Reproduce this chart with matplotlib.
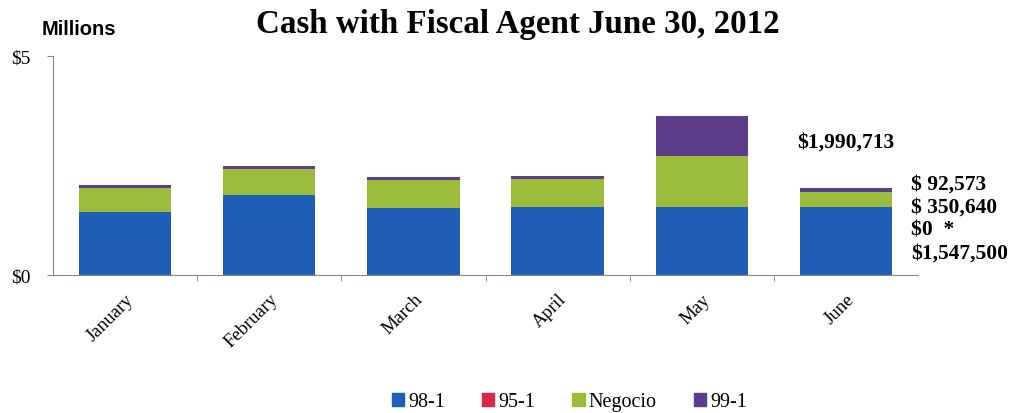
import matplotlib.pyplot as plt
import numpy as np
from matplotlib.patches import Patch

months = ['January', 'February', 'March', 'April', 'May', 'June']
fund_98_1 = [1.44, 1.83, 1.53, 1.55, 1.55, 1.5475]
fund_95_1 = [0.0, 0.0, 0.0, 0.0, 0.0, 0.0]
negocio = [0.55, 0.59, 0.64, 0.64, 1.17, 0.35064]
fund_99_1 = [0.06, 0.07, 0.07, 0.07, 0.91, 0.092573]

june_total = '$1,990,713'
june_parts = ['$ 92,573', '$ 350,640', '$0  *', '$1,547,500']

colors = {'98-1': '#1f5fb8', '95-1': '#d9264a', 'Negocio': '#9bbb3a', '99-1': '#5c3d8a'}

plt.rcParams['font.family'] = ['Liberation Serif', 'DejaVu Serif']

fig = plt.figure(figsize=(10.26, 4.14), dpi=100)
ax = fig.add_axes([0.0517, 0.3333, 0.843, 0.529])

x = np.arange(len(months))
w = 0.64
bottom = np.zeros(len(months))
for name, vals in [('98-1', fund_98_1), ('95-1', fund_95_1),
                   ('Negocio', negocio), ('99-1', fund_99_1)]:
    ax.bar(x, vals, w, bottom=bottom, color=colors[name], edgecolor='none')
    bottom += np.array(vals)

ax.set_xlim(-0.5, len(months) - 0.5)
ax.set_ylim(0, 5)
ax.set_yticks([0, 5])
ax.set_yticklabels(['$0', '$5'], fontsize=14)
ax.set_xticks(x)
ax.set_xticklabels(months, rotation=45, ha='right', rotation_mode='anchor', fontsize=13.5)
ax.set_xticks(x[:-1] + 0.5, minor=True)
ax.tick_params(axis='x', which='major', length=0, pad=11)
ax.tick_params(axis='x', which='minor', length=4, color='#888888')
ax.tick_params(axis='y', length=4, color='#888888', pad=12)
for side in ['top', 'right']:
    ax.spines[side].set_visible(False)
ax.spines['left'].set_color('#888888')
ax.spines['bottom'].set_color('#888888')

fig.text(0.041, 0.915, 'Millions', family='Liberation Sans', fontweight='bold', fontsize=14.5)
fig.text(0.505, 0.92, 'Cash with Fiscal Agent June 30, 2012', ha='center',
         fontweight='bold', fontsize=23.8)

# June breakdown labels
ax.text(5.0, 3.04, june_total, ha='center', va='center', fontweight='bold', fontsize=15.5)
for i, lbl in enumerate(june_parts):
    ax.text(5.45, 2.08 - i * 0.525, lbl, ha='left', va='center', fontweight='bold',
            fontsize=15.5, clip_on=False)

handles = [Patch(color=c, label=n) for n, c in colors.items()]
fig.legend(handles=handles, loc='center', bbox_to_anchor=(0.555, 0.027), ncol=4,
           frameon=False, fontsize=14.5, handlelength=0.6, handleheight=0.6,
           handletextpad=0.2, columnspacing=1.85)

fig.savefig('out.png', dpi=100)
